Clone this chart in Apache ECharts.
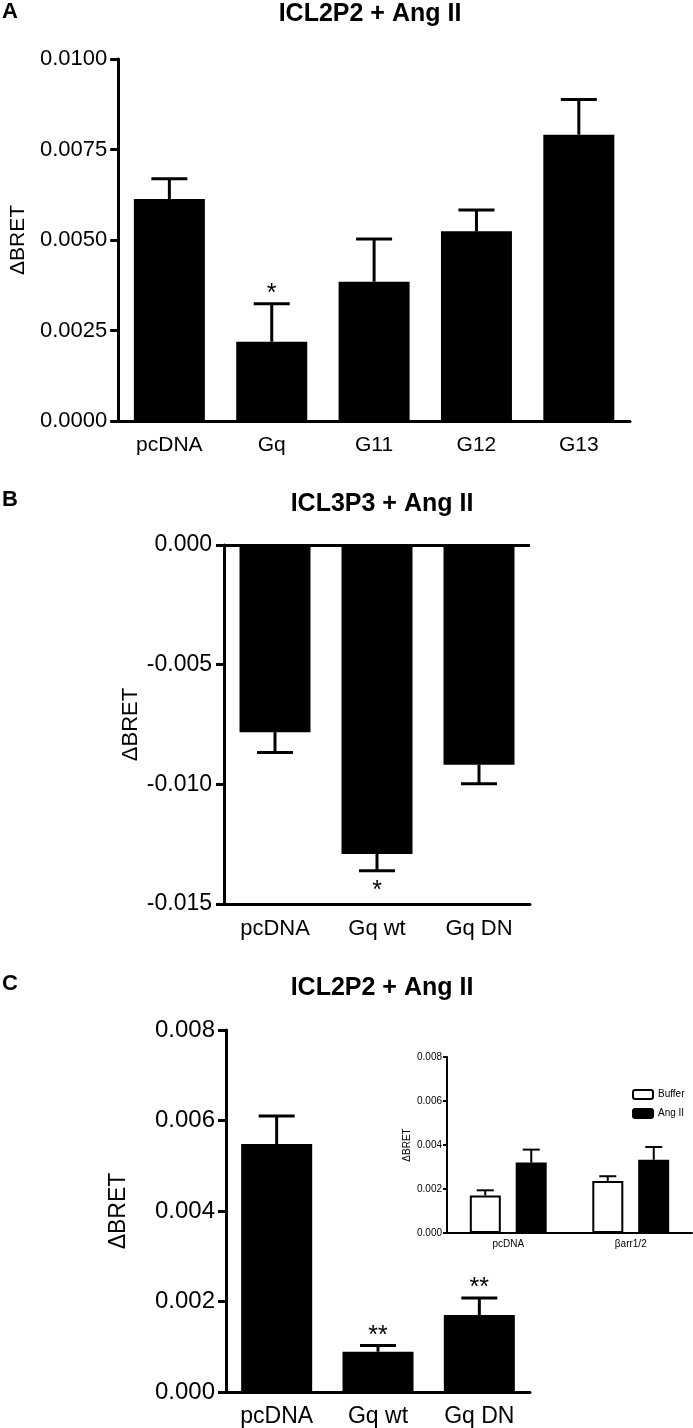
<!DOCTYPE html>
<html><head><meta charset="utf-8">
<script src="https://cdn.jsdelivr.net/npm/echarts@6/dist/echarts.min.js"></script>
<style>html,body{margin:0;padding:0;background:#fff;}#c{width:693px;height:1428px;}</style>
</head><body><div id="c"></div>
<script>
// ---- Data ----
const catA = ['pcDNA', 'Gq', 'G11', 'G12', 'G13'];
const meanA = [0.00613, 0.00219, 0.00385, 0.00524, 0.00791];
const errA = [0.00056, 0.00105, 0.00118, 0.00059, 0.00097];
const sigA = ['', '*', '', '', ''];

const catB = ['pcDNA', 'Gq wt', 'Gq DN'];
const meanB = [-0.00782, -0.01291, -0.00918];
const errB = [0.00085, 0.00070, 0.00080];
const sigB = ['', '*', ''];

const catC = ['pcDNA', 'Gq wt', 'Gq DN'];
const meanC = [0.00548, 0.00089, 0.00170];
const errC = [0.00062, 0.00014, 0.00038];
const sigC = ['', '**', '**'];

const catInset = ['pcDNA', 'βarr1/2'];
const bufferMean = [0.00171, 0.00236];
const bufferErr = [0.00023, 0.00022];
const angMean = [0.00320, 0.00333];
const angErr = [0.00059, 0.00058];

const ticksA = [0, 0.01, 0.0025];
const ticksB = [-0.015, 0, 0.005];
const ticksC = [0, 0.008, 0.002];

// ---- Helpers ----
const FONT = '"Liberation Sans", Arial, sans-serif';

function errData(cats, mean, err, sig) {
  return cats.map((c, i) => [i, mean[i], mean[i] + (mean[i] < 0 ? -err[i] : err[i]), sig ? sig[i] : '']);
}

function errSeries(grid, data, opts) {
  return {
    type: 'custom', xAxisIndex: grid, yAxisIndex: grid, silent: true, z: 5,
    data: data,
    renderItem: function (params, api) {
      const idx = api.value(0);
      const base = api.coord([idx, api.value(1)]);
      const end = api.coord([idx, api.value(2)]);
      const x = base[0] + (opts.offset || 0);
      const half = opts.cap / 2;
      const children = [
        { type: 'line', shape: { x1: x, y1: base[1], x2: x, y2: end[1] }, style: { stroke: '#000', lineWidth: opts.lw } },
        { type: 'line', shape: { x1: x - half, y1: end[1], x2: x + half, y2: end[1] }, style: { stroke: '#000', lineWidth: opts.lw } }
      ];
      const s = data[params.dataIndex][3];
      if (s) {
        const down = api.value(2) < 0;
        children.push({
          type: 'text',
          style: {
            text: s, x: x, y: down ? end[1] + opts.sigGap : end[1] - opts.sigGap,
            textAlign: 'center', textVerticalAlign: down ? 'top' : 'bottom',
            font: opts.sigFont, fill: '#000'
          }
        });
      }
      return { type: 'group', children: children };
    }
  };
}

function xAx(grid, cats, fs, margin, lw, tickLen) {
  return {
    type: 'category', gridIndex: grid, data: cats,
    axisLine: { onZero: false, lineStyle: { color: '#000', width: lw } },
    axisTick: { alignWithLabel: true, length: tickLen, lineStyle: { color: '#000', width: lw } },
    axisLabel: { color: '#000', fontSize: fs, fontFamily: FONT, margin: margin, interval: 0 },
    splitLine: { show: false }
  };
}
function yAx(grid, t, dec, fs, margin, lw, tickLen, nameFs, nameGap) {
  return {
    type: 'value', gridIndex: grid, min: t[0], max: t[1], interval: t[2],
    name: 'ΔBRET', nameLocation: 'middle', nameRotate: 90, nameGap: nameGap,
    nameTextStyle: { color: '#000', fontSize: nameFs, fontFamily: FONT },
    axisLine: { show: true, lineStyle: { color: '#000', width: lw } },
    axisTick: { show: true, length: tickLen, lineStyle: { color: '#000', width: lw } },
    axisLabel: { color: '#000', fontSize: fs, fontFamily: FONT, margin: margin, formatter: v => v.toFixed(dec) },
    splitLine: { show: false }
  };
}

const chart = echarts.init(document.getElementById('c'), null, { renderer: 'canvas' });

const option = {
  animation: false,
  backgroundColor: '#fff',
  grid: [
    { left: 118, top: 59, width: 512, height: 362 },
    { left: 224, top: 545, width: 306, height: 359 },
    { left: 226, top: 1030, width: 304, height: 362 },
    { left: 447, top: 1057, width: 245, height: 176 }
  ],
  xAxis: [
    xAx(0, catA, 21, 14, 3, 8),
    xAx(1, catB, 22, 14, 3, 8),
    xAx(2, catC, 23, 13, 3, 8),
    xAx(3, catInset, 10, 6, 2, 4)
  ],
  yAxis: [
    yAx(0, ticksA, 4, 22, 11, 3, 8, 21, 88),
    yAx(1, ticksB, 3, 23, 12, 3, 8, 22, 82),
    yAx(2, ticksC, 3, 24, 11, 3, 8, 23, 96),
    yAx(3, ticksC, 3, 10, 5, 2, 4, 10, 35)
  ],
  legend: {
    left: 627, top: 1084, orient: 'vertical', itemWidth: 20, itemHeight: 9, itemGap: 8,
    textStyle: { color: '#000', fontSize: 10, fontFamily: FONT },
    data: ['Buffer', 'Ang II']
  },
  graphic: [
    { type: 'text', x: 2, y: 1, style: { text: 'A', font: 'bold 22px ' + FONT, fill: '#000' } },
    { type: 'text', x: 370, y: 14, style: { text: 'ICL2P2 + Ang II', textAlign: 'center', textVerticalAlign: 'middle', font: 'bold 25px ' + FONT, fill: '#000' } },
    { type: 'text', x: 2, y: 489, style: { text: 'B', font: 'bold 22px ' + FONT, fill: '#000' } },
    { type: 'text', x: 382, y: 504, style: { text: 'ICL3P3 + Ang II', textAlign: 'center', textVerticalAlign: 'middle', font: 'bold 25px ' + FONT, fill: '#000' } },
    { type: 'text', x: 2, y: 973, style: { text: 'C', font: 'bold 22px ' + FONT, fill: '#000' } },
    { type: 'text', x: 382, y: 988, style: { text: 'ICL2P2 + Ang II', textAlign: 'center', textVerticalAlign: 'middle', font: 'bold 25px ' + FONT, fill: '#000' } }
  ],
  series: [
    { type: 'bar', xAxisIndex: 0, yAxisIndex: 0, data: meanA, barWidth: 71, itemStyle: { color: '#000' }, silent: true },
    errSeries(0, errData(catA, meanA, errA, sigA), { cap: 36, lw: 3, sigGap: -3, sigFont: '25px ' + FONT }),

    { type: 'bar', xAxisIndex: 1, yAxisIndex: 1, data: meanB, barWidth: 71, itemStyle: { color: '#000' }, silent: true,
      markLine: { silent: true, symbol: 'none', label: { show: false }, lineStyle: { color: '#000', width: 3, type: 'solid' }, data: [{ yAxis: 0 }] } },
    errSeries(1, errData(catB, meanB, errB, sigB), { cap: 36, lw: 3, sigGap: 8, sigFont: '25px ' + FONT }),

    { type: 'bar', xAxisIndex: 2, yAxisIndex: 2, data: meanC, barWidth: 71, itemStyle: { color: '#000' }, silent: true },
    errSeries(2, errData(catC, meanC, errC, sigC), { cap: 36, lw: 3, sigGap: -3, sigFont: '25px ' + FONT }),

    { name: 'Buffer', type: 'bar', xAxisIndex: 3, yAxisIndex: 3, data: bufferMean, barWidth: 31, barGap: '48%',
      itemStyle: { color: '#fff', borderColor: '#000', borderWidth: 2 }, silent: true },
    { name: 'Ang II', type: 'bar', xAxisIndex: 3, yAxisIndex: 3, data: angMean, barWidth: 31, barGap: '48%',
      itemStyle: { color: '#000', borderColor: '#000', borderWidth: 2 }, silent: true },
    errSeries(3, errData(catInset, bufferMean, bufferErr, null), { cap: 17, lw: 2, offset: -23, sigGap: 0, sigFont: '' }),
    errSeries(3, errData(catInset, angMean, angErr, null), { cap: 17, lw: 2, offset: 23, sigGap: 0, sigFont: '' })
  ]
};
chart.setOption(option);
</script>
</body></html>
